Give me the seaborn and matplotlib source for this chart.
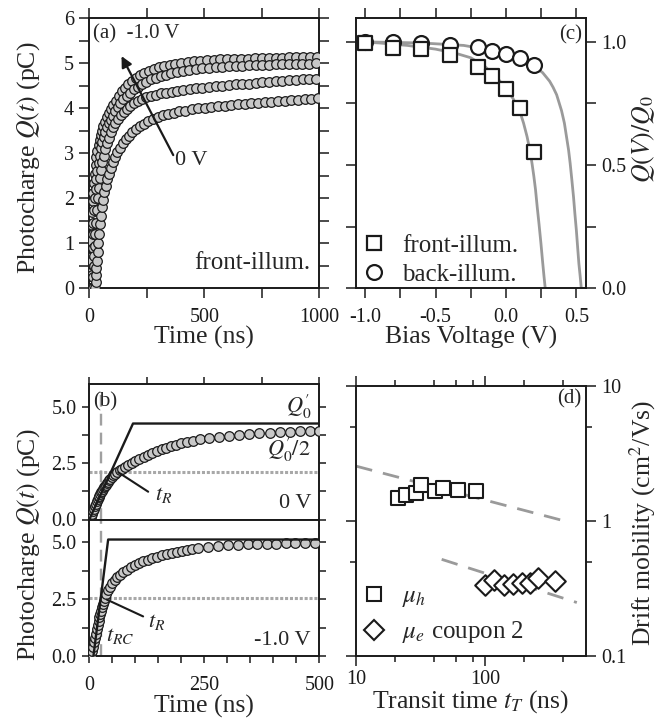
import matplotlib
matplotlib.use("Agg")
import matplotlib.pyplot as plt
import seaborn as sns
from matplotlib.ticker import FixedLocator, MultipleLocator, FormatStrFormatter, NullFormatter, FixedFormatter
from matplotlib.lines import Line2D

# ---------------- data ----------------
# panel (a): Q(t) for four biases (top = -1.0 V ... bottom = 0 V)
tA = [3,5,7,9,11,13,15,17,20,23,27,31,35,40,45,50,55,61,68,76,85,94,104,115,127,140,154,169,185,202,220,239,259,280,302,325,349,374,400,427,455,483,512,541,570,600,630,660,690,720,750,780,810,840,870,900,930,960,990]
qA = [0,0.35,0.7,1.05,1.4,1.7,1.95,2.12,2.35,2.55,2.75,2.92,3.05,3.18,3.3,3.4,3.5,3.6,3.7,3.8,3.9,3.98,4.08,4.17,4.27,4.38,4.46,4.54,4.61,4.67,4.73,4.78,4.83,4.87,4.91,4.94,4.97,4.99,5.01,5.03,5.05,5.06,5.07,5.08,5.085,5.09,5.095,5.10,5.105,5.11,5.115,5.12,5.12,5.125,5.13,5.13,5.135,5.14,5.14]
tB = [8,10,12,14,16,18,21,24,27,31,35,40,45,51,57,63,70,77,85,93,102,112,123,135,148,162,177,193,210,228,247,267,288,310,333,357,382,408,435,463,491,520,549,578,607,636,665,694,723,752,781,810,839,868,897,926,955,984]
qB = [0,0.3,0.6,0.9,1.2,1.45,1.75,2.0,2.2,2.42,2.6,2.78,2.95,3.12,3.25,3.37,3.48,3.58,3.67,3.75,3.83,3.93,4.02,4.11,4.2,4.27,4.34,4.42,4.48,4.54,4.59,4.64,4.68,4.72,4.75,4.78,4.81,4.83,4.86,4.88,4.89,4.9,4.91,4.92,4.93,4.94,4.95,4.955,4.96,4.965,4.97,4.975,4.98,4.985,4.99,4.99,4.995,5.0]
tC = [15,17,19,21,23,26,29,33,37,41,46,51,57,63,70,77,85,94,103,113,124,136,149,163,178,194,211,229,248,268,289,311,334,358,383,409,436,464,492,521,550,579,608,637,666,695,724,753,782,811,840,869,898,927,956,985]
qC = [0,0.25,0.5,0.72,0.95,1.2,1.45,1.75,2.0,2.22,2.45,2.62,2.8,2.95,3.1,3.22,3.35,3.47,3.58,3.67,3.76,3.84,3.92,3.99,4.05,4.11,4.16,4.2,4.24,4.27,4.3,4.33,4.35,4.37,4.39,4.41,4.43,4.44,4.46,4.47,4.49,4.5,4.51,4.53,4.54,4.55,4.56,4.58,4.59,4.6,4.61,4.62,4.63,4.64,4.65,4.66]
tD = [25,27,29,31,33,36,39,42,46,50,55,60,66,72,79,86,94,103,112,122,133,145,158,172,187,203,220,238,257,277,298,320,343,367,392,418,445,473,501,530,559,588,617,646,675,704,733,762,791,820,849,878,907,936,965,994]
qD = [0,0.15,0.3,0.45,0.6,0.8,1.0,1.2,1.42,1.6,1.8,1.97,2.13,2.28,2.42,2.55,2.68,2.8,2.91,3.02,3.12,3.22,3.31,3.39,3.47,3.54,3.6,3.66,3.71,3.76,3.8,3.84,3.87,3.9,3.93,3.95,3.98,4.0,4.01,4.03,4.04,4.06,4.07,4.09,4.1,4.11,4.12,4.14,4.15,4.16,4.17,4.18,4.19,4.2,4.21,4.22]

# panel (b): 0 V (upper) and -1.0 V (lower)
tb0 = [2,4,6,8,10,12,14,16,18,20,22,24,26,28,30,32,34,36,38,40,43,46,49,52,56,60,66,72,78,85,92,100,109,118,127,137,147,157,167,178,189,200,212,225,240,260,282,304,326,348,370,392,414,436,458,480,500]
qb0 = [0.0,0.12,0.24,0.36,0.48,0.6,0.7,0.8,0.89,0.98,1.06,1.14,1.21,1.28,1.35,1.42,1.48,1.54,1.6,1.66,1.74,1.81,1.88,1.95,2.03,2.1,2.17,2.25,2.32,2.4,2.5,2.6,2.7,2.78,2.87,2.95,3.04,3.11,3.18,3.25,3.31,3.37,3.43,3.49,3.56,3.62,3.67,3.71,3.75,3.78,3.81,3.84,3.86,3.88,3.9,3.92,3.93]
tb1 = [4,6,8,10,12,14,16,18,20,22,24,26,28,30,32,34,37,40,44,49,55,61,67,74,81,90,99,108,117,127,137,147,157,168,179,190,201,212,223,236,258,280,301,323,344,365,386,406,427,448,469,490]
qb1 = [0,0.2,0.4,0.6,0.78,0.98,1.18,1.37,1.54,1.7,1.85,2.0,2.14,2.28,2.42,2.55,2.72,2.88,3.03,3.2,3.35,3.48,3.58,3.69,3.8,3.91,4.02,4.09,4.16,4.22,4.29,4.36,4.43,4.48,4.53,4.58,4.63,4.67,4.71,4.76,4.8,4.84,4.87,4.89,4.91,4.92,4.93,4.94,4.95,4.96,4.97,4.98]
line0_t = [0, 95, 500]
line0_q = [0, 4.25, 4.25]
line1_t = [9, 41, 500]
line1_q = [0, 5.12, 5.12]
half0 = 2.12
half1 = 2.56
t_rc = 25

# panel (c)
bias_v = [-1.0, -0.8, -0.6, -0.4, -0.2, -0.1, 0.0, 0.1, 0.2]
front_q = [0.996, 0.976, 0.969, 0.946, 0.899, 0.861, 0.807, 0.73, 0.554]
back_q = [1.0, 1.0, 0.993, 0.987, 0.98, 0.964, 0.95, 0.933, 0.905]
fitf_v = [-1.065,-0.9,-0.7,-0.5,-0.35,-0.25,-0.15,-0.05,0.0,0.05,0.1,0.125,0.15,0.17,0.185,0.198,0.21,0.222,0.235,0.248,0.26,0.27,0.279]
fitf_q = [1.0,0.995,0.985,0.97,0.952,0.935,0.9,0.845,0.81,0.77,0.715,0.67,0.615,0.56,0.507,0.455,0.4,0.33,0.26,0.185,0.11,0.05,0.0]
fitb_v = [-1.065,-0.6,-0.3,-0.1,0.0,0.1,0.2,0.26,0.31,0.335,0.36,0.395,0.415,0.43,0.445,0.456,0.468,0.48,0.49,0.5,0.51,0.518,0.527,0.535]
fitb_q = [1.0,0.995,0.985,0.965,0.95,0.93,0.9,0.875,0.84,0.815,0.785,0.72,0.67,0.615,0.56,0.507,0.44,0.37,0.3,0.236,0.16,0.1,0.05,0.0]

# panel (d)
mu_h_t = [21.3, 24.4, 29.0, 31.7, 40.9, 47.5, 61.4, 84.7]
mu_h = [1.47, 1.56, 1.62, 1.84, 1.67, 1.77, 1.69, 1.67]
mu_e_t = [100, 118, 141, 166, 192, 223, 259, 349]
mu_e = [0.334, 0.366, 0.334, 0.34, 0.346, 0.346, 0.381, 0.36]
hfit_t = [10, 443]
hfit_mu = [2.55, 0.983]
efit_t = [46.1, 514]
efit_mu = [0.52, 0.249]

# ---------------- style ----------------
sns.set_theme(style="ticks")
plt.rcParams["font.family"] = ["Liberation Serif", "DejaVu Serif"]
plt.rcParams["mathtext.fontset"] = "stix"
plt.rcParams["axes.unicode_minus"] = False

FILL = "#c8c8c8"
GRAY = "#9a9a9a"
TICK = 14.5
LAB = 18.5
MS = 48

fig = plt.figure(figsize=(6.69, 7.22), dpi=100)
fig.patch.set_facecolor("white")

W = 669.0
H = 722.0
def box(l, r, t, b):
    return [l / W, 1 - b / H, (r - l) / W, (b - t) / H]

axA = fig.add_axes(box(89.3, 319.3, 18.3, 288.3))
axC = fig.add_axes(box(356, 585.5, 18.3, 288.3))
axB1 = fig.add_axes(box(89.3, 319.3, 384, 519.5))
axB2 = fig.add_axes(box(89.3, 319.3, 519.5, 656))
axD = fig.add_axes(box(356, 585.5, 386, 656))

def style(ax, length=7, mlength=None, xpad=4):
    for s in ax.spines.values():
        s.set_visible(True)
        s.set_linewidth(1.4)
        s.set_color("k")
    ax.set_facecolor("white")
    ax.tick_params(which="major", direction="out", length=length, width=1.1, colors="k",
                   top=True, right=True, labelsize=TICK, pad=4)
    ax.tick_params(which="minor", direction="out", length=mlength if mlength else length,
                   width=1.1, colors="k", top=True, right=True)
    ax.tick_params(axis="x", which="major", pad=xpad)

# ---------------- panel (a) ----------------
style(axA, xpad=7.5)
for tt, qq in [(tA, qA), (tB, qB), (tC, qC), (tD, qD)]:
    sns.scatterplot(x=tt, y=qq, ax=axA, s=MS, color=FILL, edgecolor="k", linewidth=0.9,
                    legend=False, zorder=3)
axA.set_xlim(0, 1000)
axA.set_ylim(0, 6)
axA.xaxis.set_major_locator(MultipleLocator(500))
axA.xaxis.set_minor_locator(MultipleLocator(250))
axA.yaxis.set_major_locator(MultipleLocator(1))
axA.yaxis.set_minor_locator(MultipleLocator(0.5))
axA.set_xlabel("")
axA.set_ylabel("")
axA.text(17, 5.65, "(a)  -1.0 V", fontsize=15, ha="left", va="center")
axA.annotate("", xy=(140, 5.16), xytext=(365, 2.96),
             arrowprops=dict(arrowstyle="-|>", color="k", lw=1.6, mutation_scale=16,
                             shrinkA=0, shrinkB=0), zorder=5)
axA.text(372, 2.83, "0 V", fontsize=16, ha="left", va="center")
axA.text(959, 0.57, "front-illum.", fontsize=18, ha="right", va="center")

# ---------------- panel (c) ----------------
style(axC, xpad=7.5)
sns.lineplot(x=fitf_v, y=fitf_q, ax=axC, color=GRAY, linewidth=2.0, sort=False, estimator=None, zorder=2)
sns.lineplot(x=fitb_v, y=fitb_q, ax=axC, color=GRAY, linewidth=2.0, sort=False, estimator=None, zorder=2)
sns.scatterplot(x=bias_v, y=back_q, ax=axC, marker="o", s=115, color="white", edgecolor="k",
                linewidth=1.6, legend=False, zorder=4)
sns.scatterplot(x=bias_v, y=front_q, ax=axC, marker="s", s=105, color="white", edgecolor="k",
                linewidth=1.6, legend=False, zorder=4)
axC.set_xlim(-1.065, 0.565)
axC.set_ylim(0, 1.095)
axC.xaxis.set_major_locator(MultipleLocator(0.5))
axC.xaxis.set_minor_locator(MultipleLocator(0.25))
axC.xaxis.set_major_formatter(FormatStrFormatter("%.1f"))
axC.yaxis.set_major_locator(MultipleLocator(0.5))
axC.yaxis.set_minor_locator(MultipleLocator(0.25))
axC.yaxis.set_major_formatter(FormatStrFormatter("%.1f"))
axC.tick_params(axis="y", labelleft=False, labelright=True)
axC.set_xlabel("")
axC.set_ylabel("")
axC.text(0.985, 0.938, "(c)", transform=axC.transAxes, fontsize=15, ha="right", va="center")
hc = [Line2D([], [], marker="s", ls="none", mfc="white", mec="k", mew=1.6, ms=10.2),
      Line2D([], [], marker="o", ls="none", mfc="white", mec="k", mew=1.6, ms=10.7)]
axC.legend(hc, ["front-illum.", "back-illum."], loc="lower left", bbox_to_anchor=(0.015, 0.0),
           frameon=False, fontsize=18, handlelength=1.0, handletextpad=0.6,
           labelspacing=0.25, borderaxespad=0.0, borderpad=0.1)

# ---------------- panel (b) ----------------
for ax in (axB1, axB2):
    style(ax, length=5, xpad=9.5)
    ax.set_xlim(0, 500)
    ax.set_ylim(0, 6)
    ax.yaxis.set_major_locator(MultipleLocator(2.5))
    ax.yaxis.set_minor_locator(MultipleLocator(1.25))
    ax.yaxis.set_major_formatter(FormatStrFormatter("%.1f"))
    ax.set_xlabel("")
    ax.set_ylabel("")

axB1.xaxis.set_major_locator(FixedLocator([0, 250, 500]))
axB1.xaxis.set_minor_locator(FixedLocator([125, 375]))
axB1.tick_params(axis="x", which="both", labelbottom=False)
axB1.tick_params(axis="x", which="minor", bottom=False)
axB2.xaxis.set_major_locator(FixedLocator([0, 250, 500]))
axB2.xaxis.set_minor_locator(MultipleLocator(50))
axB2.tick_params(axis="x", which="both", top=False)

axB1.axhline(half0, color="#a8a8a8", lw=2.2, ls=(0, (1, 0.6)), zorder=2)
axB2.axhline(half1, color="#a8a8a8", lw=2.2, ls=(0, (1, 0.6)), zorder=2)
axB1.axvline(t_rc, ymin=0, ymax=0.95, color="#a0a0a0", lw=1.7, ls=(0, (5, 3)), zorder=2)
axB2.axvline(t_rc, color="#a0a0a0", lw=1.7, ls=(0, (5, 3)), zorder=2)

sns.scatterplot(x=tb0, y=qb0, ax=axB1, s=MS, color=FILL, edgecolor="k", linewidth=0.9,
                legend=False, zorder=3)
sns.scatterplot(x=tb1, y=qb1, ax=axB2, s=MS, color=FILL, edgecolor="k", linewidth=0.9,
                legend=False, zorder=3)
sns.lineplot(x=line0_t, y=line0_q, ax=axB1, color="k", linewidth=1.7, sort=False, estimator=None, zorder=4)
sns.lineplot(x=line1_t, y=line1_q, ax=axB2, color="k", linewidth=1.7, sort=False, estimator=None, zorder=4)
axB1.set_xlim(0, 500)
axB2.set_xlim(0, 500)

# annotations
axB1.plot([63, 128], [2.09, 1.23], color="k", lw=1.5, zorder=5)
axB1.text(143, 1.1, r"$t_R$", fontsize=16, ha="left", va="center")
axB1.text(8, 5.2, "(b)", fontsize=15, ha="left", va="center")
axB1.text(482, 5.0, r"$Q_0^{\prime}$", fontsize=16, ha="right", va="center")
axB1.text(482, 3.1, r"$Q_0^{\prime}/2$", fontsize=16, ha="right", va="center")
axB1.text(482, 0.73, "0 V", fontsize=16, ha="right", va="center")
axB2.plot([38, 117], [2.48, 1.74], color="k", lw=1.5, zorder=5)
axB2.text(128, 1.5, r"$t_R$", fontsize=16, ha="left", va="center")
axB2.text(37, 0.88, r"$t_{RC}$", fontsize=16, ha="left", va="center")
axB2.text(482, 0.68, "-1.0 V", fontsize=16, ha="right", va="center")

# ---------------- panel (d) ----------------
style(axD, length=7.5, mlength=4.5, xpad=2.5)
axD.set_xscale("log")
axD.set_yscale("log")
sns.lineplot(x=hfit_t, y=hfit_mu, ax=axD, color=GRAY, linewidth=2.0, sort=False, estimator=None,
             zorder=2).lines[-1].set_dashes((6, 4))
sns.lineplot(x=efit_t, y=efit_mu, ax=axD, color=GRAY, linewidth=2.0, sort=False, estimator=None,
             zorder=2).lines[-1].set_dashes((6, 4))
sns.scatterplot(x=mu_h_t, y=mu_h, ax=axD, marker="s", s=115, color="white", edgecolor="k",
                linewidth=1.5, legend=False, zorder=4)
sns.scatterplot(x=mu_e_t, y=mu_e, ax=axD, marker="D", s=110, color="white", edgecolor="k",
                linewidth=1.5, legend=False, zorder=4)
axD.set_xlim(10, 600)
axD.set_ylim(0.1, 10)
axD.xaxis.set_major_locator(FixedLocator([10, 100]))
axD.xaxis.set_major_formatter(FixedFormatter(["10", "100"]))
axD.xaxis.set_minor_locator(FixedLocator([20, 40, 60, 80, 200, 400]))
axD.xaxis.set_minor_formatter(NullFormatter())
axD.yaxis.set_major_locator(FixedLocator([0.1, 1, 10]))
axD.yaxis.set_major_formatter(FixedFormatter(["0.1", "1", "10"]))
axD.yaxis.set_minor_locator(FixedLocator([0.5, 5]))
axD.yaxis.set_minor_formatter(NullFormatter())
axD.tick_params(axis="y", which="both", labelleft=False, labelright=True)
axD.set_xlabel("")
axD.set_ylabel("")
axD.text(0.983, 0.954, "(d)", transform=axD.transAxes, fontsize=15, ha="right", va="center")
hd = [Line2D([], [], marker="s", ls="none", mfc="white", mec="k", mew=1.5, ms=10.7),
      Line2D([], [], marker="D", ls="none", mfc="white", mec="k", mew=1.5, ms=10.5)]
axD.legend(hd, [r"$\mu_h$", r"$\mu_e$ coupon 2"], loc="lower left", bbox_to_anchor=(0.015, 0.03),
           frameon=False, fontsize=18, handlelength=1.0, handletextpad=0.6,
           labelspacing=0.4, borderaxespad=0.0, borderpad=0.1)

# ---------------- axis labels ----------------
fig.text(28.5 / W, 1 - 158 / H, r"Photocharge $Q(t)$ (pC)", rotation=90, ha="center", va="center", fontsize=LAB)
fig.text(28.5 / W, 1 - 545 / H, r"Photocharge $Q(t)$ (pC)", rotation=90, ha="center", va="center", fontsize=LAB)
fig.text(644 / W, 1 - 139 / H, r"$Q(V)/Q_0$", rotation=90, ha="center", va="center", fontsize=LAB)
fig.text(643 / W, 1 - 523 / H, r"Drift mobility (cm$^2$/Vs)", rotation=90, ha="center", va="center", fontsize=LAB)
fig.text(204.3 / W, 1 - 337 / H, "Time (ns)", ha="center", va="center", fontsize=LAB)
fig.text(470.7 / W, 1 - 337 / H, "Bias Voltage (V)", ha="center", va="center", fontsize=LAB)
fig.text(204.3 / W, 1 - 706 / H, "Time (ns)", ha="center", va="center", fontsize=LAB)
fig.text(470.7 / W, 1 - 702 / H, r"Transit time $t_T$ (ns)", ha="center", va="center", fontsize=LAB)

fig.savefig("out.png", dpi=100, facecolor="white")
